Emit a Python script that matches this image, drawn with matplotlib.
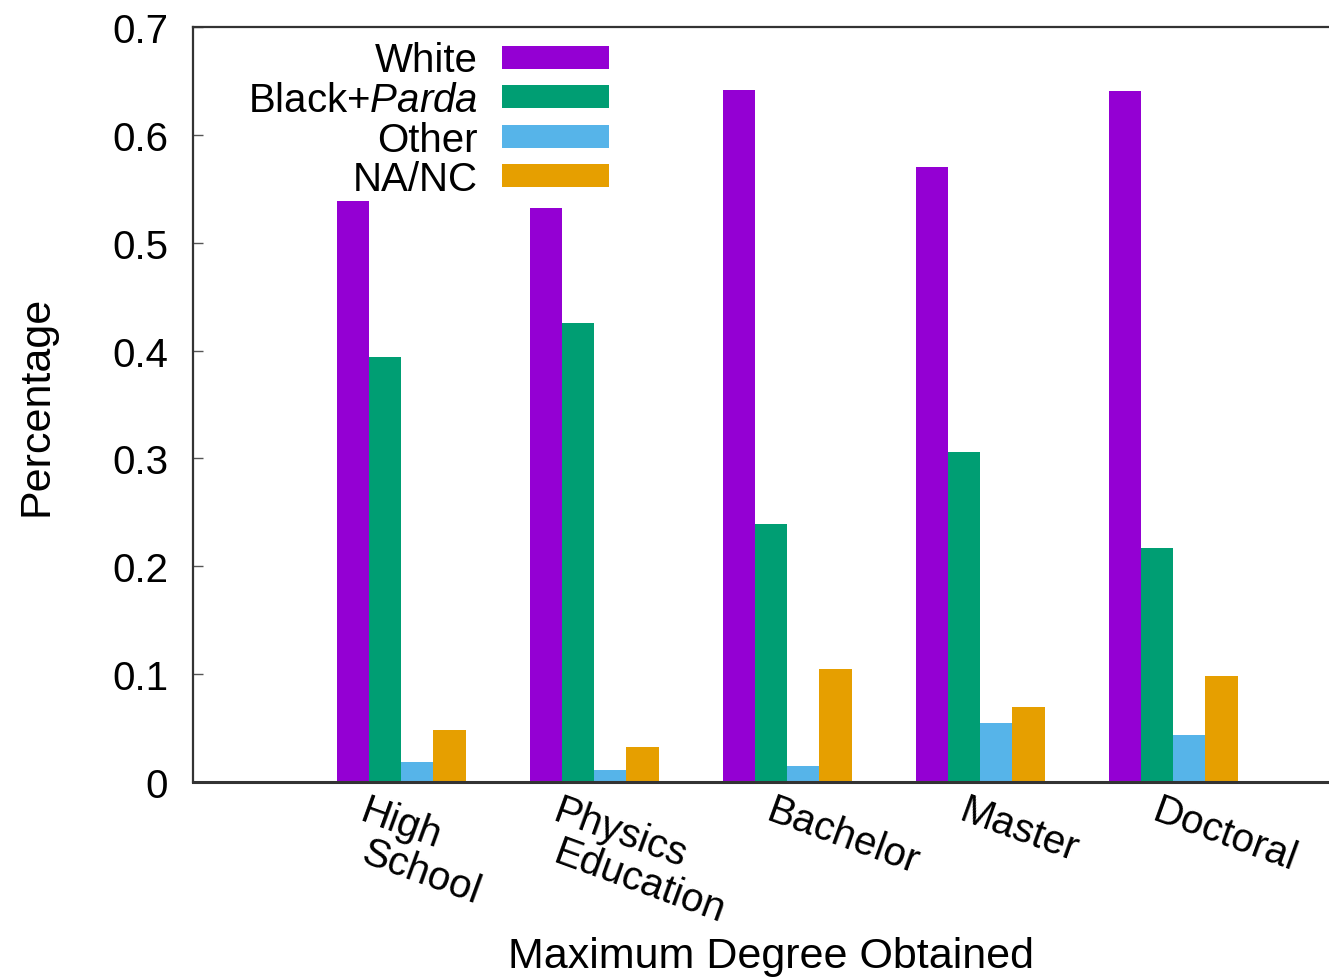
import matplotlib
matplotlib.use("Agg")
import matplotlib.pyplot as plt
from matplotlib.patches import Patch
import numpy as np

plt.rcParams["font.family"] = ["Liberation Sans", "DejaVu Sans"]
plt.rcParams["mathtext.fontset"] = "custom"
plt.rcParams["mathtext.rm"] = "Liberation Sans"
plt.rcParams["mathtext.it"] = "Liberation Sans:italic"

# degree groups and per-group shares
categories = ["High\nSchool", "Physics\nEducation", "Bachelor", "Master", "Doctoral"]
white = [0.539, 0.532, 0.642, 0.570, 0.641]
black_parda = [0.394, 0.426, 0.239, 0.306, 0.217]
other = [0.019, 0.011, 0.015, 0.055, 0.044]
na_nc = [0.048, 0.032, 0.105, 0.070, 0.098]

series_labels = ["White", r"Black+$\mathit{Parda}$", "Other", "NA/NC"]
COLORS = ["#9400D3", "#009E73", "#56B4E9", "#E69F00"]
FS = 29

fig = plt.figure(figsize=(13.29, 9.79), dpi=100)
ax = fig.add_axes([193 / 1329, 1 - 783 / 979, 1 - 193 / 1329, (783 - 28) / 979])

x = np.arange(len(categories))
w = 0.167
for k, vals in enumerate([white, black_parda, other, na_nc]):
    ax.bar(x + (k - 1.5) * w, vals, width=w, color=COLORS[k], linewidth=0)

ax.set_xlim(-1.078, 4.808)
ax.set_ylim(0, 0.7)
ax.set_yticks(np.arange(0, 0.71, 0.1))
ax.set_yticklabels(["0", "0.1", "0.2", "0.3", "0.4", "0.5", "0.6", "0.7"])
ax.tick_params(axis="y", direction="in", length=7, width=1, color="#555555",
               labelsize=FS, pad=18)
ax.set_xticks([])
for s in ("left", "top"):
    ax.spines[s].set_linewidth(1.6)
    ax.spines[s].set_color("#333333")
ax.spines["bottom"].set_linewidth(2.2)
ax.spines["bottom"].set_color("#333333")
ax.spines["right"].set_visible(False)

# rotated category labels, gnuplot style: each line rotated on its own,
# lines stacked straight down with the same left edge
for i, lab in enumerate(categories):
    lines = lab.split("\n")
    off = -0.165 if len(lines) > 1 else -0.062
    for j, line in enumerate(lines):
        ax.text(i + off, -0.012 - j * 0.055, line,
                transform=ax.get_xaxis_transform(),
                rotation=-20, rotation_mode="anchor", ha="left", va="top",
                fontsize=FS, clip_on=False)

ax.set_ylabel("Percentage", fontsize=31, labelpad=40)
fig.text(0.580, 0.0112, "Maximum Degree Obtained", ha="center",
         va="baseline", fontsize=31)

handles = [Patch(facecolor=c, edgecolor="none") for c in COLORS]
ax.legend(handles, series_labels, loc="upper right",
          bbox_to_anchor=(0.366, 0.981), frameon=False, markerfirst=False,
          fontsize=FS, handlelength=2.65, handleheight=0.5, handletextpad=0.6,
          labelspacing=0.04, borderpad=0, borderaxespad=0)

fig.savefig("out.png", dpi=100)
